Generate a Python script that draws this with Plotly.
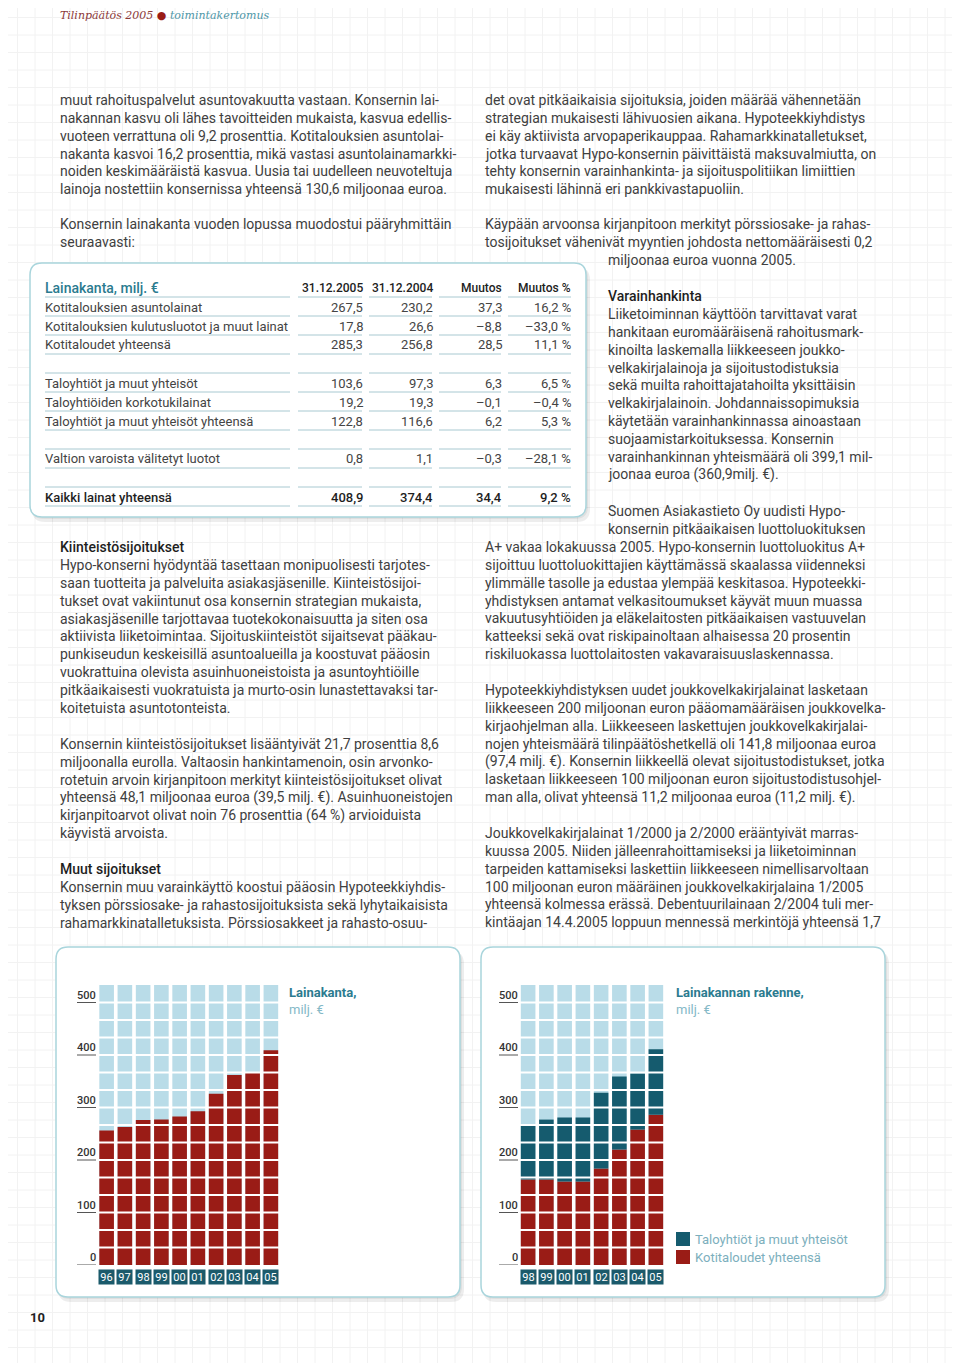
import plotly.graph_objects as go

# ---- data ----
years_total = ['96', '97', '98', '99', '00', '01', '02', '03', '04', '05']
loans_total = [256, 263, 276, 277, 283, 293, 326, 362, 366, 409]

years_split = ['98', '99', '00', '01', '02', '03', '04', '05']
households = [163, 163, 159, 159, 184, 220, 258, 286]
housing_cos = [102, 114, 122, 122, 144, 139, 107, 125]

y_ticks = [0, 100, 200, 300, 400, 500]

table_head = ['Lainakanta, milj. €', '31.12.2005', '31.12.2004', 'Muutos', 'Muutos %']
table_rows = ['Kotitalouksien asuntolainat', 'Kotitalouksien kulutusluotot ja muut lainat',
              'Kotitaloudet yhteensä', '', 'Taloyhtiöt ja muut yhteisöt',
              'Taloyhtiöiden korkotukilainat', 'Taloyhtiöt ja muut yhteisöt yhteensä', '',
              'Valtion varoista välitetyt luotot', '', 'Kaikki lainat yhteensä']
col_2005 = ['267,5', '17,8', '285,3', '', '103,6', '19,2', '122,8', '', '0,8', '', '408,9']
col_2004 = ['230,2', '26,6', '256,8', '', '97,3', '19,3', '116,6', '', '1,1', '', '374,4']
col_change = ['37,3', '–8,8', '28,5', '', '6,3', '–0,1', '6,2', '', '–0,3', '', '34,4']
col_change_pct = ['16,2 %', '–33,0 %', '11,1 %', '', '6,5 %', '–0,4 %', '5,3 %', '', '–28,1 %', '', '9,2 %']

left_p1 = ["muut rahoituspalvelut asuntovakuutta vastaan. Konsernin lai-",
           "nakannan kasvu oli lähes tavoitteiden mukaista, kasvua edellis-",
           "vuoteen verrattuna oli 9,2 prosenttia. Kotitalouksien asuntolai-",
           "nakanta kasvoi 16,2 prosenttia, mikä vastasi asuntolainamarkki-",
           "noiden keskimääräistä kasvua. Uusia tai uudelleen neuvoteltuja",
           "lainoja nostettiin konsernissa yhteensä 130,6 miljoonaa euroa."]
left_p2 = ["Konsernin lainakanta vuoden lopussa muodostui pääryhmittäin",
           "seuraavasti:"]
left_p3 = ["Hypo-konserni hyödyntää tasettaan monipuolisesti tarjotes-",
           "saan tuotteita ja palveluita asiakasjäsenille. Kiinteistösijoi-",
           "tukset ovat vakiintunut osa konsernin strategian mukaista,",
           "asiakasjäsenille tarjottavaa tuotekokonaisuutta ja siten osa",
           "aktiivista liiketoimintaa. Sijoituskiinteistöt sijaitsevat pääkau-",
           "punkiseudun keskeisillä asuntoalueilla ja koostuvat pääosin",
           "vuokrattuina olevista asuinhuoneistoista ja asuntoyhtiöille",
           "pitkäaikaisesti vuokratuista ja murto-osin lunastettavaksi tar-",
           "koitetuista asuntotonteista."]
left_p4 = ["Konsernin kiinteistösijoitukset lisääntyivät 21,7 prosenttia 8,6",
           "miljoonalla eurolla. Valtaosin hankintamenoin, osin arvonko-",
           "rotetuin arvoin kirjanpitoon merkityt kiinteistösijoitukset olivat",
           "yhteensä 48,1 miljoonaa euroa (39,5 milj. €). Asuinhuoneistojen",
           "kirjanpitoarvot olivat noin 76 prosenttia (64 %) arvioiduista",
           "käyvistä arvoista."]
left_p5 = ["Konsernin muu varainkäyttö koostui pääosin Hypoteekkiyhdis-",
           "tyksen pörssiosake- ja rahastosijoituksista sekä lyhytaikaisista",
           "rahamarkkinatalletuksista. Pörssiosakkeet ja rahasto-osuu-"]

right_p1 = ["det ovat pitkäaikaisia sijoituksia, joiden määrää vähennetään",
            "strategian mukaisesti lähivuosien aikana. Hypoteekkiyhdistys",
            "ei käy aktiivista arvopaperikauppaa. Rahamarkkinatalletukset,",
            "jotka turvaavat Hypo-konsernin päivittäistä maksuvalmiutta, on",
            "tehty konsernin varainhankinta- ja sijoituspolitiikan limiittien",
            "mukaisesti lähinnä eri pankkivastapuoliin."]
right_p2 = ["Käypään arvoonsa kirjanpitoon merkityt pörssiosake- ja rahas-",
            "tosijoitukset vähenivät myyntien johdosta nettomääräisesti 0,2"]
right_p2b = ["miljoonaa euroa vuonna 2005."]
right_p3 = ["Liiketoiminnan käyttöön tarvittavat varat",
            "hankitaan euromääräisenä rahoitusmark-",
            "kinoilta laskemalla liikkeeseen joukko-",
            "velkakirjalainoja ja sijoitustodistuksia",
            "sekä muilta rahoittajatahoilta yksittäisin",
            "velkakirjalainoin. Johdannaissopimuksia",
            "käytetään varainhankinnassa ainoastaan",
            "suojaamistarkoituksessa. Konsernin",
            "varainhankinnan yhteismäärä oli 399,1 mil-",
            "joonaa euroa (360,9milj. €)."]
right_p4a = ["Suomen Asiakastieto Oy uudisti Hypo-",
             "konsernin pitkäaikaisen luottoluokituksen"]
right_p4b = ["A+ vakaa lokakuussa 2005. Hypo-konsernin luottoluokitus A+",
             "sijoittuu luottoluokittajien käyttämässä skaalassa viidenneksi",
             "ylimmälle tasolle ja edustaa ylempää keskitasoa. Hypoteekki-",
             "yhdistyksen antamat velkasitoumukset käyvät muun muassa",
             "vakuutusyhtiöiden ja eläkelaitosten pitkäaikaisen vastuuvelan",
             "katteeksi sekä ovat riskipainoltaan alhaisessa 20 prosentin",
             "riskiluokassa luottolaitosten vakavaraisuuslaskennassa."]
right_p5 = ["Hypoteekkiyhdistyksen uudet joukkovelkakirjalainat lasketaan",
            "liikkeeseen 200 miljoonan euron pääomamääräisen joukkovelka-",
            "kirjaohjelman alla. Liikkeeseen laskettujen joukkovelkakirjalai-",
            "nojen yhteismäärä tilinpäätöshetkellä oli 141,8 miljoonaa euroa",
            "(97,4 milj. €). Konsernin liikkeellä olevat sijoitustodistukset, jotka",
            "lasketaan liikkeeseen 100 miljoonan euron sijoitustodistusohjel-",
            "man alla, olivat yhteensä 11,2 miljoonaa euroa (11,2 milj. €)."]
right_p6 = ["Joukkovelkakirjalainat 1/2000 ja 2/2000 erääntyivät marras-",
            "kuussa 2005. Niiden jälleenrahoittamiseksi ja liiketoiminnan",
            "tarpeiden kattamiseksi laskettiin liikkeeseen nimellisarvoltaan",
            "100 miljoonan euron määräinen joukkovelkakirjalaina 1/2005",
            "yhteensä kolmessa erässä. Debentuurilainaan 2/2004 tuli mer-",
            "kintäajan 14.4.2005 loppuun mennessä merkintöjä yhteensä 1,7"]

# ---- style ----
# the html body has an 8px margin, so the figure is drawn 8px smaller and coordinates
# below are page pixels
OFF = 8
W, H = 960 - OFF, 1363 - OFF
FONT = 'Roboto'
BODY = '#404040'
TEAL = '#2b7b8f'
LIGHT_TEAL = '#84b9c7'
RED = '#9a1c16'
DARK_TEAL = '#155b6e'
EMPTY = '#b9dce8'
BOX_LINE = '#a9d5dc'
RULE = '#a8c9d1'
LH = 17.85
ROW = 100 / 3          # one square = 33.3 milj. €
TOP = 16 * ROW


def px(x):
    return (x - OFF) / W


def py(y):
    return 1 - (y - OFF) / H


fig = go.Figure()


def text(x, y, s, size=14, color=BODY, weight=None, xanchor='left'):
    shift = {'left': -2, 'right': 2}.get(xanchor, 0)
    fig.add_annotation(x=px(x), y=py(y), xref='paper', yref='paper', text=s, showarrow=False,
                       xanchor=xanchor, yanchor='middle', xshift=shift,
                       font=dict(family=FONT, size=size, color=color, weight=weight))


def para(x, y0, lines, **kw):
    for i, line in enumerate(lines):
        text(x, y0 + i * LH, line, **kw)


def rounded(x0, y0, x1, y1, r, fill, line_color=None, width=0, layer='below'):
    rx, ry = r / W, r / H
    a0, a1, b0, b1 = px(x0), px(x1), py(y1), py(y0)
    path = (f"M {a0+rx},{b0} L {a1-rx},{b0} Q {a1},{b0} {a1},{b0+ry} "
            f"L {a1},{b1-ry} Q {a1},{b1} {a1-rx},{b1} L {a0+rx},{b1} "
            f"Q {a0},{b1} {a0},{b1-ry} L {a0},{b0+ry} Q {a0},{b0} {a0+rx},{b0} Z")
    fig.add_shape(type='path', path=path, xref='paper', yref='paper', fillcolor=fill,
                  line=dict(color=line_color or fill, width=width), layer=layer)


# faint background grid of the page
for k in range(1, 56):
    fig.add_shape(type='line', xref='paper', yref='paper', x0=px(k * 17.5), x1=px(k * 17.5),
                  y0=0, y1=1, line=dict(color='#f2f2f2', width=1), layer='below')
for k in range(1, 79):
    fig.add_shape(type='line', xref='paper', yref='paper', x0=0, x1=1,
                  y0=py(k * 17.5), y1=py(k * 17.5), line=dict(color='#f2f2f2', width=1), layer='below')

# boxes with soft shadow
for (x0, y0, x1, y1) in [(30, 263, 586, 517), (56, 947, 460, 1297), (481, 947, 885, 1297)]:
    rounded(x0 + 2, y0 + 4, x1 + 4, y1 + 5, 13, 'rgba(0,0,0,0.07)')
    rounded(x0 + 1, y0 + 2, x1 + 2, y1 + 2, 13, 'rgba(0,0,0,0.06)')
    rounded(x0, y0, x1, y1, 12, 'white', BOX_LINE, 1.5)

# ---- chart 1: Lainakanta ----
fig.add_bar(x=years_total, y=[TOP] * len(years_total), marker=dict(color=EMPTY, line_width=0),
            xaxis='x', yaxis='y', showlegend=False, hoverinfo='skip')
fig.add_bar(x=years_total, y=loans_total, marker=dict(color=RED, line_width=0),
            xaxis='x', yaxis='y', showlegend=False, name='Lainakanta')

# ---- chart 2: Lainakannan rakenne ----
fig.add_bar(x=years_split, y=[TOP] * len(years_split), marker=dict(color=EMPTY, line_width=0),
            xaxis='x2', yaxis='y2', showlegend=False, hoverinfo='skip')
fig.add_bar(x=years_split, y=households, marker=dict(color=RED, line_width=0),
            xaxis='x2', yaxis='y2', showlegend=False, name='Kotitaloudet yhteensä')
fig.add_bar(x=years_split, y=housing_cos, base=households, marker=dict(color=DARK_TEAL, line_width=0),
            xaxis='x2', yaxis='y2', showlegend=False, name='Taloyhtiöt ja muut yhteisöt')

for xa, ya, years, tick_x0, tick_x1 in [('x', 'y', years_total, 77, 96), ('x2', 'y2', years_split, 499, 518)]:
    # white gaps between square rows
    for k in range(1, 16):
        fig.add_shape(type='line', xref=f'{xa} domain', yref=ya, x0=0, x1=1, y0=k * ROW, y1=k * ROW,
                      line=dict(color='white', width=2), layer='above')
    # value scale
    for t in y_ticks:
        fig.add_shape(type='line', xref='paper', yref=ya, x0=px(tick_x0), x1=px(tick_x1), y0=t, y1=t,
                      line=dict(color='#555555', width=1))
        fig.add_annotation(x=px(tick_x1), y=t, xref='paper', yref=ya, text=str(t), showarrow=False,
                           xanchor='right', yanchor='bottom', xshift=2, yshift=-1,
                           font=dict(family=FONT, size=11, color='#333333', weight=500))
    # year boxes (category position by index, numeric-looking labels)
    for i, yr in enumerate(years):
        fig.add_annotation(x=i, y=0, xref=xa, yref=ya, text=yr, showarrow=False, yanchor='top',
                           yshift=-4, width=13, height=12, bgcolor='#1b5a6b', borderpad=1,
                           font=dict(family=FONT, size=11, color='white'))

text(289, 992, 'Lainakanta,', size=13, color=TEAL, weight='bold')
text(289, 1009, 'milj. €', size=13, color=LIGHT_TEAL)
text(676, 992, 'Lainakannan rakenne,', size=13, color=TEAL, weight='bold')
text(676, 1009, 'milj. €', size=13, color=LIGHT_TEAL)

# legend of chart 2
for (yc, col, lab) in [(1239, DARK_TEAL, 'Taloyhtiöt ja muut yhteisöt'), (1257, RED, 'Kotitaloudet yhteensä')]:
    fig.add_shape(type='rect', xref='paper', yref='paper', x0=px(676), x1=px(690),
                  y0=py(yc + 7), y1=py(yc - 7), fillcolor=col, line_width=0)
    text(695, yc, lab, size=13, color='#7cafbd')

# ---- table ----
col_right = [363, 433, 502, 571]
seg = [(45, 290), (298, 362), (369, 432), (439, 501), (508, 571)]
text(45, 288, table_head[0], size=14, color=TEAL, weight=500)
for xr, h in zip(col_right, table_head[1:]):
    text(xr, 288, h, size=12, color='#222222', weight=500, xanchor='right')
for i in range(len(table_rows) + 1):
    yl = 297 + i * 19
    for (a, b) in seg:
        fig.add_shape(type='line', xref='paper', yref='paper', x0=px(a), x1=px(b), y0=py(yl), y1=py(yl),
                      line=dict(color=RULE, width=1))
for i, lab in enumerate(table_rows):
    yr = 307 + i * 19
    last = i == len(table_rows) - 1
    w = 500 if last else None
    c = '#1e1e1e' if last else '#444444'
    text(45, yr, lab, size=13, color=c, weight=w)
    for xr, col in zip(col_right, [col_2005, col_2004, col_change, col_change_pct]):
        text(xr, yr, col[i], size=13, color=c, weight=w, xanchor='right')

# ---- body text ----
para(60, 100, left_p1)
para(60, 224, left_p2)
text(60, 547, 'Kiinteistösijoitukset', color='#1e1e1e', weight=500)
para(60, 565, left_p3)
para(60, 744, left_p4)
text(60, 869, 'Muut sijoitukset', color='#1e1e1e', weight=500)
para(60, 887, left_p5)

para(485, 100, right_p1)
para(485, 224, right_p2)
para(608, 260, right_p2b)
text(608, 296, 'Varainhankinta', color='#1e1e1e', weight=500)
para(608, 314, right_p3)
para(608, 511, right_p4a)
para(485, 547, right_p4b)
para(485, 690, right_p5)
para(485, 833, right_p6)

# running header and page number
fig.add_annotation(x=px(60), y=py(15), xref='paper', yref='paper', showarrow=False,
                   xanchor='left', yanchor='middle', xshift=-2,
                   text="<span style='color:#8c3a3a'>Tilinpäätös 2005</span> "
                        "<span style='color:#9a1c16'>●</span> "
                        "<span style='color:#4f97a8'>toimintakertomus</span>",
                   font=dict(family='DejaVu Serif', size=11, style='italic'))
text(37, 1317, '10', size=13, color='#1e1e1e', weight='bold', xanchor='center')

axis_off = dict(visible=False, fixedrange=True)
fig.update_layout(
    width=W, height=H, autosize=False,
    margin=dict(l=0, r=0, t=0, b=0),
    paper_bgcolor='white', plot_bgcolor='rgba(0,0,0,0)',
    barmode='overlay', bargap=0.2,
    xaxis=dict(domain=[px(97.5), px(280)], type='category', range=[-0.5, 9.5], **axis_off),
    yaxis=dict(domain=[py(1265), py(985)], range=[0, TOP], **axis_off),
    xaxis2=dict(domain=[px(519), px(665)], type='category', range=[-0.5, 7.5], anchor='y2', **axis_off),
    yaxis2=dict(domain=[py(1265), py(985)], range=[0, TOP], anchor='x2', **axis_off),
)

fig.write_html("out.html")
